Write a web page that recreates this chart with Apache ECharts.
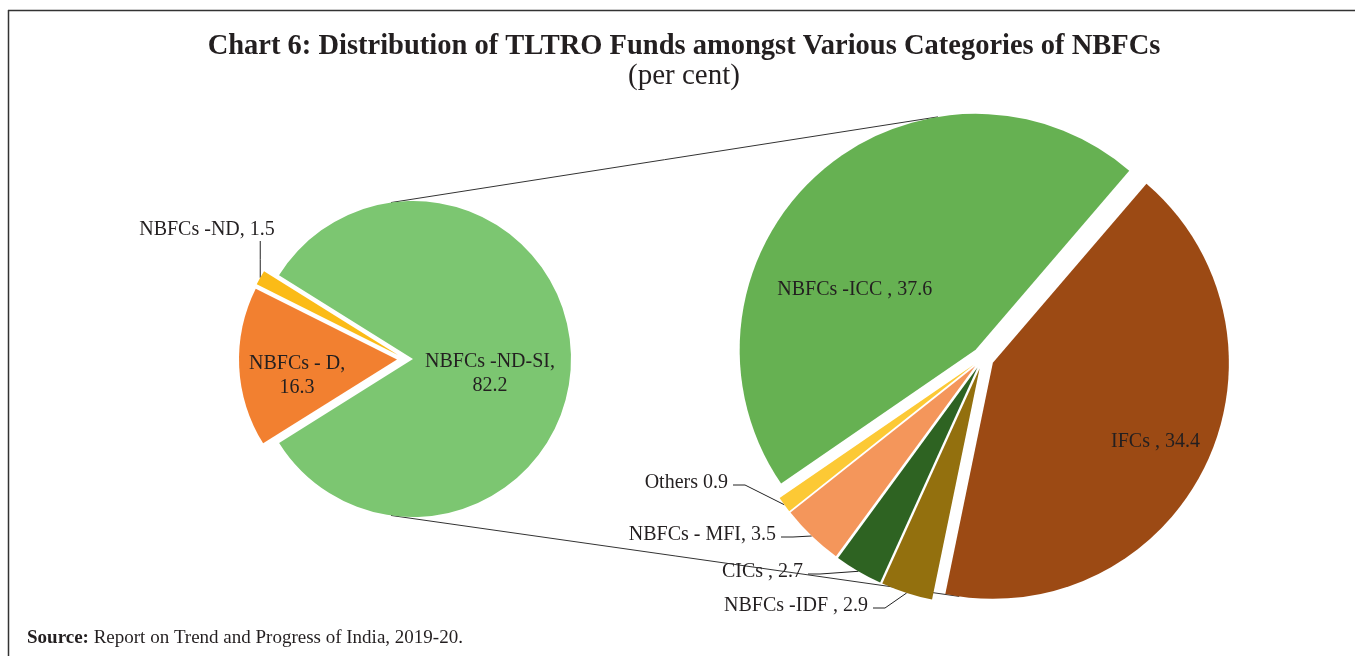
<!DOCTYPE html>
<html>
<head>
<meta charset="utf-8">
<script src="https://cdn.jsdelivr.net/npm/echarts@6/dist/echarts.min.js"></script>
<style>
  html, body { margin: 0; padding: 0; background: #fff; }
  #main { width: 1355px; height: 656px; }
</style>
</head>
<body>
<div id="main"></div>
<script>
// data (per cent)
var mainNames = ["NBFCs -ND-SI", "NBFCs - D", "NBFCs -ND"];
var mainValues = [82.2, 16.3, 1.5];

var splitNames = ["IFCs", "NBFCs -IDF", "CICs", "NBFCs - MFI", "Others", "NBFCs -ICC"];
var splitValues = [34.4, 2.9, 2.7, 3.5, 0.9, 37.6];

var mainColors = ["#7cc671", "#f28030", "#fbbb17"];
var splitColors = ["#9c4a14", "#93700e", "#2e6322", "#f4965b", "#fcc935", "#66b152"];

// label text as printed on the chart
var mainLabels = ["NBFCs -ND-SI,\n82.2", "NBFCs - D,\n16.3", "NBFCs -ND, 1.5"];
var splitLabels = ["IFCs , 34.4", "NBFCs -IDF , 2.9", "CICs , 2.7", "NBFCs - MFI, 3.5", "Others 0.9", "NBFCs -ICC , 37.6"];

var FONT = "Liberation Serif";
var TXT = "#231f20";

// layout of the two pies
var c1 = [405, 359], r1 = 158, off1 = 8, start1 = 148;
var c2 = [983, 358], r2 = 236, off2 = 11, start2 = 49.4;

// where the labels sit: nudges for inside ones, anchor points for outside ones
// (ax "r" = right edge of text, "c" = centre with a vertical leader)
var mainLabelPos = [{ dx: -5, dy: 15 }, { dx: -18, dy: 12 }, { x: 207, y: 230, ax: "c" }];
var splitLabelPos = [
  { dx: 54, dy: 26 },
  { x: 868, y: 606, ax: "r" },
  { x: 803, y: 572, ax: "r" },
  { x: 776, y: 535, ax: "r" },
  { x: 728, y: 483, ax: "r" },
  { dx: -40, dy: 30 }
];

var myChart = echarts.init(document.getElementById("main"));

function buildData(names, values, colors, labels, outsideFrom) {
  return values.map(function (v, i) {
    var outside = outsideFrom(i);
    return {
      name: names[i], value: v, selected: true,
      itemStyle: { color: colors[i] },
      label: { formatter: labels[i], position: outside ? "outside" : "inside" },
      labelLine: { show: outside, length: 8, length2: 12 }
    };
  });
}

var mainData = buildData(mainNames, mainValues, mainColors, mainLabels, function (i) { return i === 2; });
var splitData = buildData(splitNames, splitValues, splitColors, splitLabels, function (i) { return i > 0 && i < 5; });

// shift that the "selected" explosion adds to each slice (its label moves with it)
function explodeShift(values, start, off) {
  var total = values.reduce(function (a, b) { return a + b; }, 0);
  var cum = 0;
  return values.map(function (v) {
    var mid = (start - 360 * (cum + v / 2) / total) * Math.PI / 180;
    cum += v;
    return [off * Math.cos(mid), -off * Math.sin(mid)];
  });
}

function layoutFrom(list, shifts) {
  return function (params) {
    var i = params.dataIndex;
    var p = list[i];
    if (p.x == null) return { dx: p.dx, dy: p.dy };
    var r = params.labelRect;
    var tx = p.x - shifts[i][0], ty = p.y - shifts[i][1];
    var curX = p.ax === "r" ? r.x + r.width : r.x + r.width / 2;
    var dx = tx - curX, dy = ty - (r.y + r.height / 2);
    var out = { dx: dx, dy: dy };
    var pts = params.labelLinePoints;
    if (pts && pts.length) {
      var a = pts[0];
      if (p.ax === "r") {
        out.labelLinePoints = [[a[0], a[1]], [tx + 17, ty + 2], [tx + 5, ty + 2]];
      } else {
        var bottom = ty + r.height / 2 - 1;
        out.labelLinePoints = [[a[0], a[1]], [a[0], (a[1] + bottom) / 2], [a[0], bottom]];
      }
    }
    return out;
  };
}

var labelBase = {
  show: true, color: TXT,
  fontFamily: FONT, fontSize: 20, lineHeight: 24
};

// connector lines between the two pies
function pt(c, off, dir, r, ang) {
  var a = ang * Math.PI / 180, d = dir * Math.PI / 180;
  return [c[0] + off * Math.cos(d) + r * Math.cos(a), c[1] - off * Math.sin(d) - r * Math.sin(a)];
}
var lt = pt(c1, off1, 0, r1, 98), lb = pt(c1, off1, 0, r1, -98);
var rt = pt(c2, off2, 132, r2, 99.2), rb = pt(c2, off2, -26, r2, -98.2);

var option = {
  animation: false,
  title: [
    {
      text: "Chart 6: Distribution of TLTRO Funds amongst Various Categories of NBFCs",
      left: 679, top: 27, textAlign: "center",
      textStyle: { fontFamily: FONT, fontWeight: "bold", fontSize: 28.5, color: TXT }
    },
    {
      text: "(per cent)",
      left: 679, top: 57, textAlign: "center",
      textStyle: { fontFamily: FONT, fontWeight: "normal", fontSize: 29, color: TXT }
    }
  ],
  graphic: [
    { type: "line", shape: { x1: 8, y1: 10.5, x2: 1355, y2: 10.5 }, style: { stroke: "#333", lineWidth: 1.5 } },
    { type: "line", shape: { x1: 8.5, y1: 10, x2: 8.5, y2: 656 }, style: { stroke: "#333", lineWidth: 1.5 } },
    { type: "line", z: 0, shape: { x1: lt[0], y1: lt[1], x2: rt[0], y2: rt[1] }, style: { stroke: "#333", lineWidth: 1 } },
    { type: "line", z: 0, shape: { x1: lb[0], y1: lb[1], x2: rb[0], y2: rb[1] }, style: { stroke: "#333", lineWidth: 1 } },
    {
      type: "text", left: 27, top: 629,
      style: {
        text: "{b|Source:} Report on Trend and Progress of India, 2019-20.",
        font: "19px " + FONT, fill: TXT,
        rich: { b: { fontWeight: "bold", fontFamily: FONT, fontSize: 19, fill: TXT } }
      }
    }
  ],
  series: [
    {
      type: "pie",
      center: c1, radius: r1,
      startAngle: start1, clockwise: true,
      selectedMode: "multiple", selectedOffset: off1,
      avoidLabelOverlap: false,
      silent: true,
      label: labelBase,
      labelLine: { lineStyle: { color: "#222", width: 1 } },
      labelLayout: layoutFrom(mainLabelPos, explodeShift(mainValues, start1, off1)),
      data: mainData,
      z: 3
    },
    {
      type: "pie",
      center: c2, radius: r2,
      startAngle: start2, clockwise: true,
      selectedMode: "multiple", selectedOffset: off2,
      avoidLabelOverlap: false,
      silent: true,
      label: labelBase,
      labelLine: { lineStyle: { color: "#222", width: 1 } },
      labelLayout: layoutFrom(splitLabelPos, explodeShift(splitValues, start2, off2)),
      data: splitData,
      z: 3
    }
  ]
};

myChart.setOption(option);
</script>
</body>
</html>
